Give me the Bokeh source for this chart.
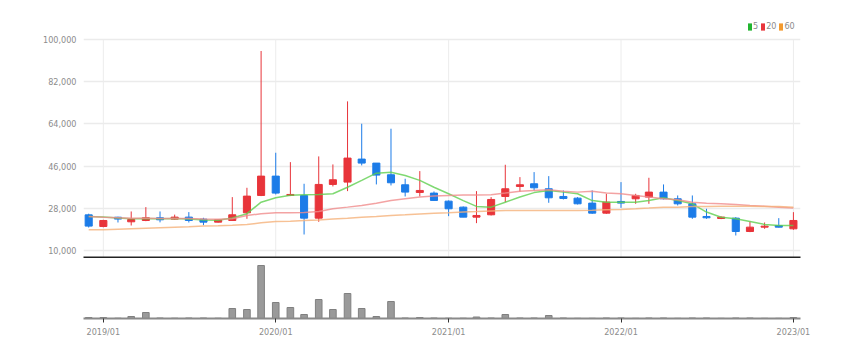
import pandas as pd
from bokeh.plotting import figure
from bokeh.layouts import column
from bokeh.models import (ColumnDataSource, FixedTicker, DatetimeTickFormatter,
                          NumeralTickFormatter, Legend, LegendItem, Range1d)
from bokeh.embed import file_html
from bokeh.resources import INLINE

FONT = "DejaVu Sans Condensed"

months = ["2018-12",
          "2019-01", "2019-02", "2019-03", "2019-04", "2019-05", "2019-06",
          "2019-07", "2019-08", "2019-09", "2019-10", "2019-11", "2019-12",
          "2020-01", "2020-02", "2020-03", "2020-04", "2020-05", "2020-06",
          "2020-07", "2020-08", "2020-09", "2020-10", "2020-11", "2020-12",
          "2021-01", "2021-02", "2021-03", "2021-04", "2021-05", "2021-06",
          "2021-07", "2021-08", "2021-09", "2021-10", "2021-11", "2021-12",
          "2022-01", "2022-02", "2022-03", "2022-04", "2022-05", "2022-06",
          "2022-07", "2022-08", "2022-09", "2022-10", "2022-11", "2022-12",
          "2023-01"]

opens = [25200,
         20250, 24200, 22240, 22800, 23950, 23380, 24230, 23380, 22100, 22800, 26080, 33480,
         41730, 33480, 33480, 23800, 38180, 39170, 48990, 47280, 42300, 38030, 34760, 34480,
         31060, 28500, 24230, 25230, 33050, 37320, 38460, 36330, 33050, 32340, 30210, 25940,
         30920, 32060, 32770, 34900, 32060, 29920, 24510, 23660, 23800, 18110, 19960, 20670,
         19250]
highs = [25700,
         23100, 24400, 26650, 28500, 26650, 25300, 26380, 23950, 23380, 32770, 36750, 95100,
         51700, 47700, 38460, 50130, 46710, 73610, 64070, 47280, 61940, 40600, 43870, 35190,
         31350, 28780, 35330, 32770, 46570, 41310, 43440, 41730, 35610, 32770, 35610, 34190,
         39170, 34190, 41020, 38180, 33480, 33480, 27790, 24510, 24230, 22380, 21950, 23800,
         26360]
lows = [19800,
        19900, 21950, 20670, 22500, 22000, 23100, 21950, 20800, 21950, 22800, 23520, 33200,
        33900, 33200, 16830, 22240, 37320, 35330, 46290, 38180, 37750, 33050, 33050, 31200,
        24660, 24230, 21670, 24940, 30630, 35050, 35610, 30350, 31770, 29640, 25650, 25650,
        28210, 29920, 29920, 31770, 29210, 23520, 23520, 23380, 16400, 17830, 19250, 19820,
        18820]
closes = [20400,
          22800, 23400, 23230, 23950, 23090, 24230, 22800, 22100, 23090, 25230, 33200, 41730,
          34480, 33900, 23800, 38180, 40170, 49420, 47280, 42160, 38890, 34900, 35610, 31350,
          27790, 24230, 24940, 31770, 36330, 38030, 36750, 32480, 32200, 29920, 25940, 30630,
          30210, 33480, 34900, 32060, 29920, 24230, 23950, 24230, 18110, 19960, 20390, 19960,
          22810]
volumes = [100000,
           100000, 30000, 200000, 600000, 50000, 30000, 50000, 50000, 30000, 1000000, 900000, 5300000,
           1600000, 1100000, 400000, 1900000, 900000, 2500000, 1000000, 200000, 1700000, 50000, 100000, 50000,
           30000, 30000, 150000, 50000, 400000, 50000, 50000, 300000, 50000, 20000, 20000, 50000,
           50000, 20000, 50000, 50000, 20000, 50000, 50000, 20000, 50000, 50000, 20000, 20000,
           100000]
ma5 = [24500,
       24300, 23900, 23500, 23600, 23500, 23600, 23400, 23000, 22900, 23900, 25700, 30600,
       32500, 33600, 33800, 33900, 34200, 37000, 39900, 43000, 43400, 42000, 39900, 37000,
       34200, 31300, 28800, 28500, 30600, 32800, 34700, 35600, 34900, 34200, 31300, 30600,
       30600, 30600, 31300, 32500, 31300, 29900, 26400, 24200, 23500, 22400, 21100, 20700,
       20700]
ma20 = [24500,
        24200, 24000, 23800, 23800, 23700, 23700, 23600, 23400, 23300, 23500, 24900, 25700,
        26100, 26100, 26200, 26600, 27800, 28500, 29200, 30200, 31300, 32100, 32800, 33200,
        33500, 33700, 33700, 33800, 34500, 35300, 35600, 35900, 35300, 34900, 35300, 34500,
        34200, 33500, 32800, 32100, 31600, 30600, 30200, 29900, 29600, 29200, 28900, 28500,
        28100]
ma60 = [18800,
        18900, 19100, 19300, 19500, 19700, 19900, 20100, 20400, 20600, 20800, 21100, 21800,
        22400, 22500, 22800, 23000, 23400, 23800, 24200, 24500, 24900, 25200, 25600, 25900,
        26100, 26400, 26600, 26900, 27100, 27100, 27100, 27100, 27100, 27100, 27200, 27400,
        27500, 27800, 28100, 28500, 28500, 28800, 28800, 28900, 28900, 28900, 28800, 28800,
        28500]
price_ticks = [10000, 28000, 46000, 64000, 82000, 100000]
year_ticks = ["2019-01-01", "2020-01-01", "2021-01-01", "2022-01-01", "2023-01-01"]
ma_labels = ["5", "20", "60"]

RED = "#e8343a"
BLUE = "#1c7ce8"
UP_DOWN = [RED if c >= o else BLUE for o, c in zip(opens, closes)]

dates = pd.to_datetime([m + "-01" for m in months])
src = ColumnDataSource(dict(x=dates, o=opens, h=highs, l=lows, c=closes,
                            top=[max(o, c) for o, c in zip(opens, closes)],
                            bot=[min(o, c) for o, c in zip(opens, closes)],
                            col=UP_DOWN, v=volumes, ma5=ma5, ma20=ma20, ma60=ma60))

Y0, Y1 = 7015, 110236
xr = Range1d(pd.Timestamp("2018-11-20"), pd.Timestamp("2023-01-16"))
tick_dates = pd.to_datetime(year_ticks)
tick_ms = [t.value / 1e6 for t in tick_dates]
DAY = 24 * 3600 * 1000

LEFT, RIGHT, WIDTH = 83, 20, 820
FRAME_H = 242
TOP = 15
p1 = figure(width=WIDTH, height=TOP + FRAME_H + 1, x_axis_type="datetime", x_range=xr,
            y_range=Range1d(Y0, Y1), output_backend="svg", toolbar_location=None,
            min_border_left=LEFT, min_border_right=RIGHT, min_border_top=TOP, min_border_bottom=1)
p1.outline_line_color = None
p1.xgrid.grid_line_color = None

# vertical year grid lines, limited to the price tick span
p1.segment(x0=tick_dates, x1=tick_dates, y0=Y0, y1=max(price_ticks),
           line_color="#ececec", line_width=1)

p1.segment(x0="x", x1="x", y0="l", y1="h", color="col", line_width=1, source=src)
p1.vbar(x="x", width=15 * DAY, top="top", bottom="bot", fill_color="col",
        line_color="col", line_width=1, source=src)

ma_cols = ["#5fcf4f", "#f08c8c", "#f5b27a"]
p1.line("x", "ma5", source=src, color=ma_cols[0], line_width=1.5, line_alpha=0.8)
p1.line("x", "ma20", source=src, color=ma_cols[1], line_width=1.5, line_alpha=0.8)
p1.line("x", "ma60", source=src, color=ma_cols[2], line_width=1.5, line_alpha=0.8)

leg_cols = ["#22b530", "#e8343a", "#f39a2e"]
nan = float("nan")
items = []
for lab, col in zip(ma_labels, leg_cols):
    r = p1.quad(top=[nan], bottom=[nan], left=[nan], right=[nan],
                fill_color=col, line_color=None)
    items.append(LegendItem(label=lab, renderers=[r]))
leg = Legend(items=items, orientation="horizontal", location=(664, 226),
             label_text_font=FONT, label_text_font_size="9px", label_text_color="#8c8c8c",
             glyph_width=5, glyph_height=9, label_standoff=1, spacing=2, padding=0,
             margin=0, border_line_color=None, background_fill_alpha=0,
             label_height=9, label_width=4)
p1.add_layout(leg)

p1.yaxis.ticker = FixedTicker(ticks=price_ticks)
p1.yaxis.formatter = NumeralTickFormatter(format="0,0")
p1.yaxis.axis_line_color = None
p1.yaxis.major_tick_line_color = None
p1.yaxis.minor_tick_line_color = None
p1.yaxis.major_label_text_font = FONT
p1.yaxis.major_label_text_font_size = "9px"
p1.yaxis.major_label_text_color = "#8c8c8c"
p1.yaxis.major_label_standoff = 1
p1.ygrid.grid_line_color = "#ebebeb"
p1.ygrid.grid_line_width = 1.5

p1.xaxis.ticker = FixedTicker(ticks=[])
p1.xaxis.axis_line_color = "#222222"
p1.xaxis.axis_line_width = 2
p1.xaxis.major_tick_line_color = None
p1.xaxis.minor_tick_line_color = None
p1.xaxis.major_label_standoff = 0

p2 = figure(width=WIDTH, height=85, x_axis_type="datetime", x_range=xr,
            y_range=Range1d(0, 6000000), output_backend="svg", toolbar_location=None,
            min_border_left=LEFT, min_border_right=RIGHT, min_border_top=0, min_border_bottom=25)
p2.outline_line_color = None
p2.vbar(x="x", width=14 * DAY, top="v", bottom=0, fill_color="#9a9a9a",
        line_color="#808080", line_width=1, source=src)
p2.yaxis.visible = False
p2.xgrid.grid_line_color = None
p2.ygrid.grid_line_color = None
p2.xaxis.ticker = FixedTicker(ticks=tick_ms)
p2.xaxis.formatter = DatetimeTickFormatter(years="%Y/%m", months="%Y/%m", days="%Y/%m",
                                           hours="%Y/%m", minutes="%Y/%m", seconds="%Y/%m",
                                           milliseconds="%Y/%m", microseconds="%Y/%m",
                                           hourmin="%Y/%m", minsec="%Y/%m")
p2.xaxis.axis_line_color = "#8a8a8a"
p2.xaxis.axis_line_width = 2
p2.xaxis.major_tick_line_color = "#333333"
p2.xaxis.major_tick_in = 0
p2.xaxis.major_tick_out = 4
p2.xaxis.minor_tick_line_color = None
p2.xaxis.major_label_text_font = FONT
p2.xaxis.major_label_text_font_size = "9px"
p2.xaxis.major_label_text_color = "#8c8c8c"
p2.xaxis.major_label_standoff = 4

layout = column(p1, p2, spacing=0)
open("out.html", "w").write(file_html(layout, INLINE))
